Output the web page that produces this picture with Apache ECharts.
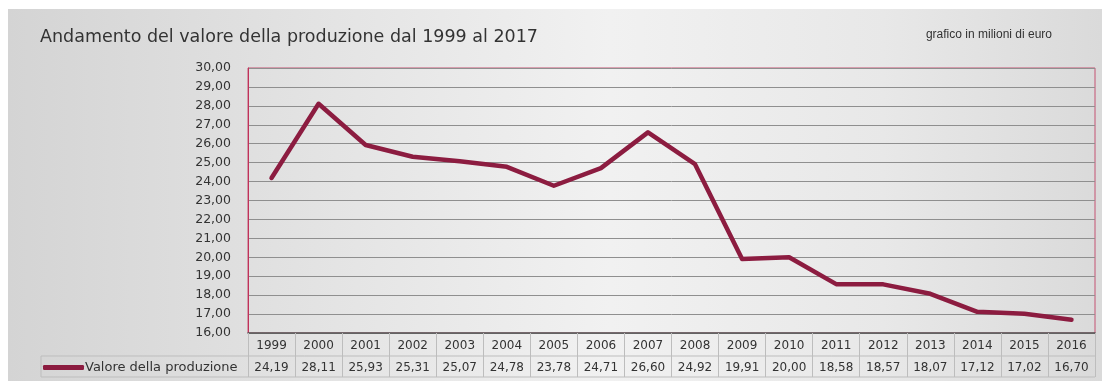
<!DOCTYPE html>
<html>
<head>
<meta charset="utf-8">
<script src="https://cdn.jsdelivr.net/npm/echarts@6/dist/echarts.min.js"></script>
<style>
  html, body { margin: 0; padding: 0; background: #fff; }
  .wrap {
    position: absolute; left: 8px; top: 9px; width: 1094px; height: 372px;
    background: linear-gradient(90deg, #d4d4d4 0%, #e4e4e4 30%, #f1f1f1 55%, #e8e8e8 80%, #dadada 100%);
  }
  #chart { position: absolute; left: -8px; top: -9px; width: 1102px; height: 381px; }
</style>
</head>
<body>
<div class="wrap"><div id="chart"></div></div>
<script>
// dati
const anni = ['1999', '2000', '2001', '2002', '2003', '2004', '2005', '2006', '2007',
  '2008', '2009', '2010', '2011', '2012', '2013', '2014', '2015', '2016']
const valori = [24.19, 28.11, 25.93, 25.31, 25.07, 24.78, 23.78, 24.71, 26.60,
  24.92, 19.91, 20.00, 18.58, 18.57, 18.07, 17.12, 17.02, 16.70]
const nomeSerie = 'Valore della produzione'

// formato italiano con virgola
const fmt = v => v.toFixed(2).replace('.', ',')

const colore = '#8c1c40'
const testo = '#333'
const font = 'DejaVu Sans'

// posizione dell'area del grafico
const G = { left: 248, right: 7, top: 68, bottom: 48 }
const W = 1102, H = 381
const baseY = H - G.bottom      // 333
const riga1 = baseY + 23        // 356
const riga2 = riga1 + 21        // 377

const chart = echarts.init(document.getElementById('chart'), null, { renderer: 'canvas' })

chart.setOption({
  animation: false,
  textStyle: { fontFamily: font },
  title: [
    {
      text: 'Andamento del valore della produzione dal 1999 al 2017',
      left: 35, top: 23,
      textStyle: { fontSize: 17.5, fontWeight: 'normal', color: testo, fontFamily: font }
    },
    {
      text: 'grafico in milioni di euro',
      right: 45, top: 24,
      textStyle: { fontSize: 12, fontWeight: 'normal', color: testo, fontFamily: 'Liberation Sans Narrow, Liberation Sans' }
    }
  ],
  legend: {
    data: [nomeSerie],
    left: 43, top: riga1 + 5,
    itemWidth: 41, itemHeight: 5, itemGap: 0,
    icon: 'roundRect',
    padding: 0,
    textStyle: { fontSize: 13, color: testo, fontFamily: font, padding: [0, 0, 0, -4] }
  },
  grid: {
    left: G.left, right: G.right, top: G.top, bottom: G.bottom,
    show: true, borderColor: '#c45272', borderWidth: 1, backgroundColor: 'transparent'
  },
  xAxis: [
    {
      type: 'category',
      data: anni,
      boundaryGap: true,
      axisLine: { lineStyle: { color: '#555', width: 1.5 } },
      axisTick: { show: true, interval: 0, length: riga2 - baseY, lineStyle: { color: '#bdbdbd' } },
      axisLabel: { interval: 0, margin: 7, fontSize: 12, color: testo, fontFamily: font }
    },
    {
      type: 'category',
      data: valori.map(fmt),
      position: 'bottom',
      offset: riga1 - baseY,
      boundaryGap: true,
      axisLine: { show: false },
      axisTick: { show: false },
      axisLabel: { interval: 0, margin: 6, fontSize: 12, color: testo, fontFamily: font }
    }
  ],
  yAxis: {
    type: 'value',
    min: 16, max: 30, interval: 1,
    axisLine: { show: true, lineStyle: { color: '#c0325a', width: 1 } },
    axisTick: { show: false },
    axisLabel: { formatter: fmt, fontSize: 12.5, color: testo, margin: 17, fontFamily: font },
    splitLine: { lineStyle: { color: '#8f8f8f', width: 1 } }
  },
  series: [
    {
      name: nomeSerie,
      type: 'line',
      data: valori,
      showSymbol: false,
      symbol: 'none',
      lineStyle: { color: colore, width: 4.5, cap: 'round', join: 'round' },
      itemStyle: { color: colore }
    }
  ],
  // linee della tabella dati
  graphic: [
    { type: 'line', shape: { x1: 41, y1: riga1, x2: W - G.right, y2: riga1 }, style: { stroke: '#bdbdbd', lineWidth: 1 } },
    { type: 'line', shape: { x1: 41, y1: riga2, x2: W - G.right, y2: riga2 }, style: { stroke: '#bdbdbd', lineWidth: 1 } },
    { type: 'line', shape: { x1: 41, y1: riga1, x2: 41, y2: riga2 }, style: { stroke: '#bdbdbd', lineWidth: 1 } }
  ]
})
</script>
</body>
</html>
